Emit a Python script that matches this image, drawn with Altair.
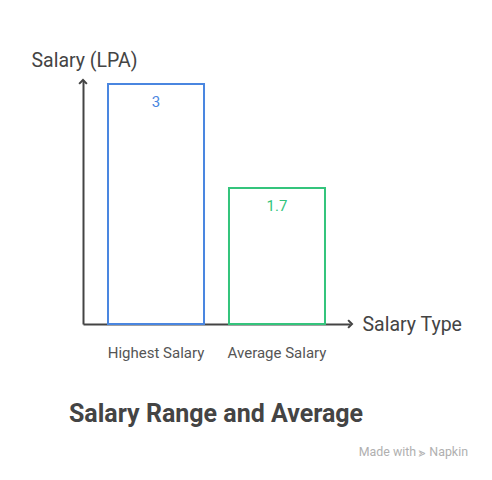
import altair as alt
import pandas as pd

categories = ["Highest Salary", "Average Salary"]
values = [3, 1.7]
colors = ["#4a86e0", "#34c47c"]

df = pd.DataFrame({"cat": categories, "val": values, "label": ["3", "1.7"], "color": colors})

W, H = 267, 244
FONT = "Roboto"

x = alt.X("cat:N", sort=categories,
          scale=alt.Scale(paddingInner=0.207, paddingOuter=0.207),
          axis=alt.Axis(title="Salary Type", labelAngle=0, ticks=False, labelPadding=21,
                        labelFontSize=15, labelColor="#555555", labelFont=FONT,
                        domainColor="#444444", domainWidth=2,
                        titleFont=FONT, titleFontSize=19.5, titleFontWeight="normal", titleColor="#444444",
                        titleAnchor="start", titleAlign="left", titleBaseline="middle",
                        titleX=W + 12, titleY=0, grid=False))
y = alt.Y("val:Q", scale=alt.Scale(domain=[0, 3.05], nice=False, zero=True),
          axis=alt.Axis(title="Salary (LPA)", labels=False, ticks=False, grid=False,
                        domainColor="#444444", domainWidth=2,
                        titleFont=FONT, titleFontSize=19.5, titleFontWeight="normal", titleColor="#444444",
                        titleAngle=0, titleAlign="center", titleBaseline="middle",
                        titleX=1, titleY=-20))

bars = alt.Chart(df).mark_bar(fill="white", strokeWidth=2, size=96).encode(
    x=x, y=y, stroke=alt.Color("color:N", scale=None))

labels = alt.Chart(df).mark_text(baseline="middle", fontSize=15, font=FONT, dy=18).encode(
    x=alt.X("cat:N", sort=categories), y="val:Q", text="label:N",
    color=alt.Color("color:N", scale=None))

arrow = "M-1,1 L0,0 L1,1"
yarrow = alt.Chart(pd.DataFrame({"v": [3.05]})).mark_point(
    shape=arrow, filled=False, stroke="#444444", strokeWidth=2, size=60, opacity=1
).encode(x=alt.value(0), y=alt.Y("v:Q"))
xarrow = alt.Chart(pd.DataFrame({"v": [0]})).mark_point(
    shape=arrow, filled=False, stroke="#444444", strokeWidth=2, size=60, angle=90, opacity=1
).encode(x=alt.value(W + 2), y=alt.Y("v:Q"))

title = alt.Chart(pd.DataFrame({"t": ["Salary Range and Average"]})).mark_text(
    font=FONT, fontSize=25, fontWeight="bold", color="#444444", align="center", baseline="middle"
).encode(x=alt.value(133), y=alt.value(H + 90), text="t:N")

wm = alt.Chart(pd.DataFrame({"t": ["Made with ⪢ Napkin"]})).mark_text(
    font=FONT, fontSize=12.4, color="#b0b0b0", align="right", baseline="middle"
).encode(x=alt.value(385), y=alt.value(H + 128), text="t:N")

chart = alt.layer(bars, labels, yarrow, xarrow, title, wm).properties(
    width=W, height=H,
    background="white",
    autosize=alt.AutoSizeParams(type="none"),
    padding={"left": 75, "top": 72, "right": 134, "bottom": 148},
).configure_view(strokeWidth=0, stroke="transparent")

chart.save("out.html", embed_options={"renderer": "svg", "actions": False})
